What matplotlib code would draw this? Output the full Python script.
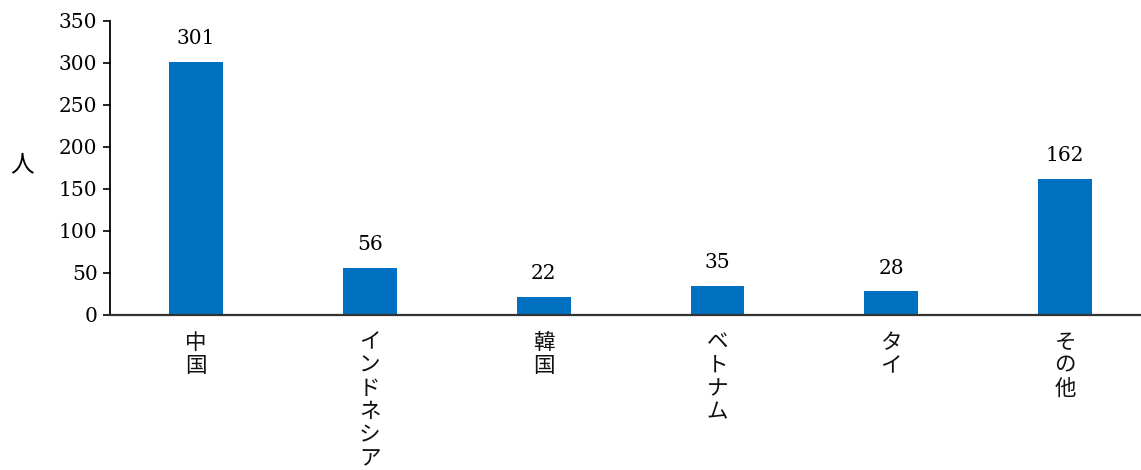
import matplotlib
matplotlib.use("Agg")
import matplotlib.pyplot as plt

categories = ["中国", "インドネシア", "韓国", "ベトナム", "タイ", "その他"]
values = [301, 56, 22, 35, 28, 162]
yticks = [0, 50, 100, 150, 200, 250, 300, 350]
ylabel = "人"

num_font = ["DejaVu Serif"]
cjk_font = ["Noto Sans CJK JP", "DejaVu Sans"]

fig = plt.figure(figsize=(11.41, 4.70), dpi=100)
ax = fig.add_axes([110 / 1141, 1 - 315 / 470, 1 - 110 / 1141, 294 / 470])

x = list(range(len(categories)))
bars = ax.bar(x, values, width=0.31, color="#0070C0", zorder=2)

ax.set_xlim(-0.495, 5.437)
ax.set_ylim(0, 350)
ax.set_yticks(yticks)
ax.set_yticklabels([str(t) for t in yticks], fontfamily=num_font, fontsize=14.5)
ax.tick_params(axis="y", direction="out", length=5, width=1.2, pad=4)
ax.tick_params(axis="x", length=0)
ax.set_xticks([])

for s in ["top", "right"]:
    ax.spines[s].set_visible(False)
ax.spines["left"].set_linewidth(1.3)
ax.spines["bottom"].set_linewidth(1.6)
ax.spines["bottom"].set_color("#333333")

for xi, v in zip(x, values):
    ax.annotate(str(v), (xi, v), xytext=(0, 10), textcoords="offset points",
                ha="center", va="bottom", fontfamily=num_font, fontsize=14.5)

for xi, c in zip(x, categories):
    ax.annotate("\n".join(c), (xi, 0), xycoords="data",
                xytext=(0, -12), textcoords="offset points",
                ha="center", va="top", fontfamily=cjk_font, fontsize=15.5,
                linespacing=1.07, color="#111111")

fig.text(22 / 1141, 1 - 165 / 470, ylabel, fontfamily=cjk_font, fontsize=17,
         ha="center", va="center")

fig.savefig("out.png", dpi=100, facecolor="white")
